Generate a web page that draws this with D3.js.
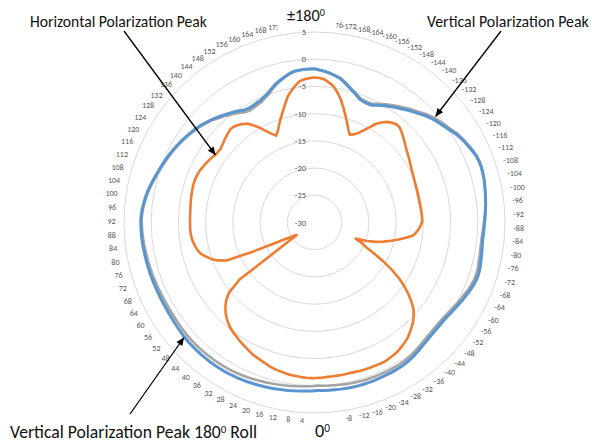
<!DOCTYPE html>
<html><head><meta charset="utf-8">
<script src="https://cdn.jsdelivr.net/npm/d3@7"></script>
<style>html,body{margin:0;padding:0;background:#fff;}svg{display:block;}</style>
</head><body>
<svg id="chart" width="592" height="444"></svg>
<script>
// Categories: azimuth in degrees, 2-degree steps (labels shown every 4 degrees)
const angles = d3.range(-180, 181, 2);
// Category labels hidden behind the "±180⁰" and "0⁰" text boxes in the reference
const hiddenLabels = [-180, 180, 176, 0, -4];
const ringValues = [-25, -20, -15, -10, -5, 0, 5];
const valueTickLabels = [5, 0, -5, -10, -15, -20, -25, -30];

// Vertical Polarization Peak (blue), dB, from -180 to 180
const verticalPeak = [
 -1.74,-1.95,-2.17,-2.43,-2.78,-3.09,-3.64,-4.23,-4.78,-5.30,
 -5.82,-6.04,-6.10,-6.04,-5.64,-5.24,-4.83,-4.43,-4.02,-3.60,
 -3.18,-2.74,-2.30,-1.80,-1.38,-0.98,-0.63,-0.28,0.09,0.59,
 0.94,1.28,1.56,1.85,2.11,2.24,2.28,2.22,2.15,2.02,
 1.89,1.76,1.65,1.52,1.41,1.28,1.19,1.12,1.08,1.10,
 1.19,1.30,1.41,1.56,1.60,1.56,1.41,1.23,0.97,0.75,
 0.50,0.27,0.09,-0.10,-0.20,-0.24,-0.24,-0.20,-0.13,0.00,
 0.16,0.36,0.55,0.71,0.82,0.91,0.95,0.97,0.97,0.99,
 1.03,1.05,1.06,1.06,1.05,1.03,0.99,0.95,0.94,0.90,
 0.86,0.96,1.01,1.08,1.16,1.23,1.31,1.38,1.45,1.53,
 1.60,1.67,1.75,1.82,1.87,1.93,1.97,1.98,2.00,2.00,
 1.98,1.97,1.95,1.93,1.89,1.84,1.76,1.69,1.62,1.56,
 1.53,1.51,1.51,1.51,1.53,1.54,1.58,1.62,1.65,1.69,
 1.73,1.76,1.82,1.85,1.89,1.91,1.93,1.87,1.75,1.58,
 1.41,1.21,0.96,0.70,0.44,0.18,-0.02,-0.26,-0.48,-0.70,
 -0.92,-1.18,-1.40,-1.67,-1.93,-2.19,-2.48,-2.83,-3.14,-3.51,
 -3.86,-4.21,-4.56,-4.91,-5.27,-5.66,-5.79,-5.72,-5.61,-5.48,
 -5.11,-4.76,-4.19,-3.64,-3.16,-2.74,-2.33,-1.98,-1.87,-1.80,
 -1.76
];

// Vertical Polarization Peak 180° Roll (gray)
const verticalRoll = [
 -1.79,-2.00,-2.22,-2.40,-2.70,-2.95,-3.49,-4.06,-4.60,-5.10,
 -5.60,-5.80,-5.84,-5.75,-5.32,-4.90,-4.48,-4.08,-3.67,-3.25,
 -2.83,-2.39,-1.95,-1.45,-1.03,-0.63,-0.29,0.04,0.38,0.84,
 1.15,1.45,1.71,1.99,2.23,2.34,2.36,2.28,2.19,2.04,
 1.89,1.74,1.61,1.46,1.33,1.16,1.03,0.92,0.84,0.82,
 0.87,0.94,1.01,1.16,1.20,1.16,1.01,0.83,0.57,0.35,
 0.10,-0.13,-0.31,-0.50,-0.60,-0.64,-0.64,-0.60,-0.53,-0.41,
 -0.26,-0.08,0.09,0.23,0.32,0.39,0.41,0.41,0.39,0.39,
 0.40,0.39,0.37,0.34,0.30,0.25,0.18,0.11,0.08,0.03,
 -0.02,0.08,0.13,0.20,0.28,0.36,0.45,0.53,0.61,0.70,
 0.78,0.86,0.95,1.03,1.09,1.16,1.21,1.23,1.26,1.28,
 1.28,1.29,1.29,1.29,1.27,1.24,1.18,1.13,1.08,1.04,
 1.03,1.03,1.05,1.07,1.11,1.14,1.20,1.26,1.31,1.37,
 1.43,1.48,1.56,1.61,1.67,1.71,1.75,1.71,1.60,1.43,
 1.26,1.06,0.81,0.55,0.29,0.03,-0.17,-0.41,-0.63,-0.85,
 -1.07,-1.33,-1.55,-1.82,-2.08,-2.34,-2.63,-2.98,-3.29,-3.71,
 -4.11,-4.51,-4.91,-5.31,-5.72,-6.11,-6.24,-6.15,-6.01,-5.84,
 -5.43,-5.04,-4.43,-3.84,-3.32,-2.86,-2.42,-2.04,-1.91,-1.82,
 -1.78
];

// Horizontal Polarization Peak (orange)
const horizontalPeak = [
 -3.35,-3.45,-3.64,-4.15,-4.74,-5.70,-6.80,-8.10,-9.40,-10.60,
 -11.78,-12.60,-12.30,-11.80,-10.90,-9.90,-8.70,-7.90,-7.20,-6.80,
 -6.50,-6.55,-6.90,-7.30,-7.70,-8.10,-8.45,-8.75,-9.00,-9.25,
 -9.50,-9.70,-9.85,-10.00,-10.10,-10.20,-10.25,-10.30,-10.33,-10.35,
 -10.36,-10.33,-10.30,-10.27,-10.23,-10.20,-10.47,-10.78,-11.20,-11.70,
 -12.95,-14.24,-15.54,-16.80,-18.10,-19.80,-21.90,-20.60,-19.60,-17.80,
 -15.60,-13.50,-11.50,-9.80,-8.30,-7.00,-5.79,-4.98,-4.28,-3.73,
 -3.22,-2.74,-2.40,-2.10,-1.80,-1.64,-1.51,-1.38,-1.38,-1.42,
 -1.44,-1.47,-1.50,-1.55,-1.58,-1.57,-1.56,-1.55,-1.53,-1.49,
 -1.45,-1.40,-1.43,-1.49,-1.58,-1.65,-1.78,-1.93,-2.08,-2.26,
 -2.54,-2.78,-3.00,-3.20,-3.51,-3.82,-4.06,-4.35,-4.68,-4.94,
 -5.26,-5.70,-6.19,-6.80,-7.53,-8.43,-9.74,-12.70,-26.00,-25.70,
 -24.80,-23.60,-21.50,-17.60,-12.40,-10.90,-9.83,-9.10,-8.36,-7.95,
 -7.68,-7.44,-7.26,-7.17,-7.13,-7.13,-7.13,-7.11,-7.09,-7.06,
 -6.98,-6.91,-6.84,-6.78,-6.71,-6.67,-6.69,-6.76,-6.87,-7.07,
 -7.26,-7.46,-7.70,-7.94,-8.03,-8.07,-7.85,-7.59,-7.35,-7.13,
 -6.91,-7.04,-7.29,-7.70,-8.14,-9.06,-10.00,-11.00,-11.85,-12.55,
 -11.90,-10.90,-9.85,-8.75,-7.59,-6.30,-5.40,-4.61,-3.88,-3.62,
 -3.46
];

const series = [
  {name: "Vertical Polarization Peak 180° Roll", values: verticalRoll, color: "#a5a5a5", width: 2.6},
  {name: "Vertical Polarization Peak", values: verticalPeak, color: "#5b95cf", width: 3},
  {name: "Horizontal Polarization Peak", values: horizontalPeak, color: "#ed7d31", width: 2.6}
];

const cx = 314.5, cy = 222.5, R = 190.5;
const svg = d3.select("#chart");
const r = d3.scaleLinear().domain([-30, 5]).range([0, R]);
const n = angles.length;
const a = d3.scaleLinear().domain([0, n]).range([0, 2 * Math.PI]);
const labelFont = "Carlito, Lato, 'Liberation Sans', sans-serif";

const g = svg.append("g").attr("transform", `translate(${cx},${cy})`);

// Gridline rings
g.selectAll("circle.ring").data(ringValues).join("circle")
  .attr("class", "ring").attr("r", d => r(d))
  .attr("fill", "none").attr("stroke", "#d9d9d9").attr("stroke-width", 1);

// Series lines
const line = d3.lineRadial().angle((d, i) => a(i)).radius(d => r(d)).curve(d3.curveLinearClosed);
g.selectAll("path.series").data(series).join("path")
  .attr("class", "series").attr("d", d => line(d.values))
  .attr("fill", "none").attr("stroke", d => d.color).attr("stroke-width", d => d.width)
  .attr("stroke-linejoin", "round");

// Category labels
const catG = g.append("g");
angles.forEach((v, i) => {
  if (v % 4 !== 0 || hiddenLabels.includes(v)) return;
  const th = a(i), s = Math.sin(th), c = Math.cos(th);
  const x = (R + 8.5) * s, y = -(R + 4) * c - c * 3.5;
  const anchor = s > 0.01 ? "start" : (s < -0.01 ? "end" : "middle");
  catG.append("text").attr("x", x).attr("y", y)
    .attr("text-anchor", anchor).attr("dominant-baseline", "central")
    .attr("font-family", labelFont).attr("font-size", 8).attr("fill", "#595959")
    .text(v);
});

// White text box behind "±180⁰" (clips the neighbouring labels like in the reference)
svg.append("rect").attr("x", 277.5).attr("y", 0).attr("width", 59).attr("height", 30).attr("fill", "#fff");

// Value axis labels
g.selectAll("text.val").data(valueTickLabels).join("text")
  .attr("class", "val").attr("x", -8.5).attr("y", d => -r(d))
  .attr("text-anchor", "end").attr("dominant-baseline", "central")
  .attr("font-family", labelFont).attr("font-size", 8.5).attr("fill", "#595959")
  .text(d => d);

// Annotations
const annFont = "Carlito, Lato, sans-serif";
function fit(sel, target) {
  const len = sel.node().getComputedTextLength();
  const fs = parseFloat(sel.attr("font-size"));
  sel.attr("font-size", (fs * target / len).toFixed(2));
}
function ann(x, y, parts, target, anchor) {
  const t = svg.append("text").attr("x", x).attr("y", y)
    .attr("font-family", annFont).attr("font-size", 14).attr("fill", "#111")
    .attr("text-anchor", anchor || "start");
  parts.forEach(p => {
    if (p.sup) t.append("tspan").attr("font-size", "0.62em").attr("dy", "-0.45em").text(p.text);
    else t.append("tspan").attr("dy", p.after ? "0.28em" : null).text(p.text);
  });
  if (target) fit(t, target);
  return t;
}
ann(30, 26.5, [{text: "Horizontal Polarization Peak"}], 177);
ann(427, 26.5, [{text: "Vertical Polarization Peak"}], 162);
ann(287, 21, [{text: "±180"}, {text: "0", sup: true}], 38);
ann(10, 438, [{text: "Vertical Polarization Peak 180"}, {text: "0", sup: true}, {text: " Roll", after: true}], 247);
ann(315, 437, [{text: "0"}, {text: "0", sup: true}], 15);

// Arrows
const defs = svg.append("defs");
defs.append("marker").attr("id", "arrow").attr("viewBox", "0 0 10 10")
  .attr("refX", 10).attr("refY", 5).attr("markerWidth", 9).attr("markerHeight", 8)
  .attr("markerUnits", "userSpaceOnUse").attr("orient", "auto")
  .append("path").attr("d", "M0,0.5 L10,5 L0,9.5 z").attr("fill", "#000");
const arrows = [
  {x1: 124, y1: 31, x2: 215.5, y2: 155},
  {x1: 501, y1: 31, x2: 435.5, y2: 116.5},
  {x1: 130, y1: 414, x2: 184, y2: 337.5}
];
svg.selectAll("line.arrow").data(arrows).join("line")
  .attr("class", "arrow")
  .attr("x1", d => d.x1).attr("y1", d => d.y1).attr("x2", d => d.x2).attr("y2", d => d.y2)
  .attr("stroke", "#000").attr("stroke-width", 1.3).attr("marker-end", "url(#arrow)");
</script>
</body></html>
